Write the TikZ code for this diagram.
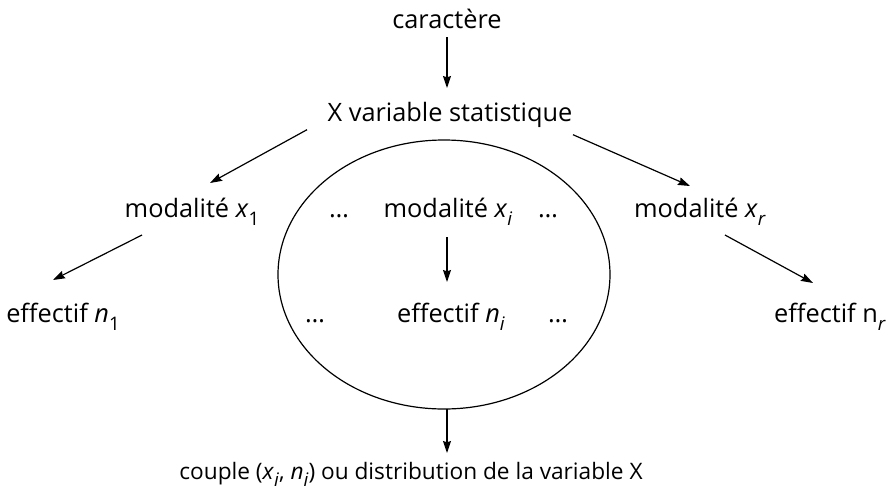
\documentclass[tikz,border=0pt]{standalone}
\usepackage{fontspec}
\setmainfont{Open Sans}
\usetikzlibrary{arrows.meta}
\newcommand{\vsub}[2]{#1\raisebox{-0.32em}{\fontsize{14}{14}\selectfont#2}}

\begin{document}
\begin{tikzpicture}[x=0.75pt,y=-0.75pt,line width=0.9pt,
      every node/.style={inner sep=0pt,anchor=base,font=\fontsize{19}{23}\selectfont},
      >={Stealth[length=9pt,width=6pt,inset=1pt]}]
      \useasboundingbox(0,0)rectangle(890,490);
      % the tree
      \node(car)at(447,28){caract\`ere};
      \node(var)at(450,121){X variable statistique};
      \node(mod1)at(192,217){modalit\'e \vsub{\textit{x}}{1}};
      \node(dl1)at(339,217){\dots};
      \node(modi)at(448,217){modalit\'e \vsub{\textit{x}}{\textit{i}}};
      \node(dr1)at(548,217){\dots};
      \node(modr)at(700,217){modalit\'e \vsub{\textit{x}}{\textit{r}}};
      \node(eff1)at(63,322){effectif \vsub{\textit{n}}{1}};
      \node(dl2)at(315,322){\dots};
      \node(effi)at(451,322){effectif \vsub{\textit{n}}{\textit{i}}};
      \node(dr2)at(558,322){\dots};
      \node(effr)at(830,322){effectif \vsub{n}{\textit{r}}};
      \node[font=\fontsize{17}{21}\selectfont](couple)at(411,479){couple (\vsub{\textit{x}}{\textit{i}}, \vsub{\textit{n}}{\textit{i}}) ou distribution de la variable X};
      \draw(444,274.5)ellipse[x radius=166,y radius=134.5];
      \coordinate(bot)at(447,409);
      % arrows
      \draw[->]([shift={(0,9)}]car.base)--([shift={(-3,-33)}]var.base);
      \draw[->]([shift={(-20,2)}]var.south west)--([shift={(18,-34)}]mod1.base);
      \draw[->]([shift={(0,7)}]var.south east)--([shift={(-10,-31)}]modr.base);
      \draw[->]([shift={(-50,18)}]mod1.base)--([shift={(-10,-42)}]eff1.base);
      \draw[->]([shift={(25,18)}]modr.base)--([shift={(-17,-39)}]effr.base);
      \draw[->]([shift={(-1,20)}]modi.base)--([shift={(-4,-40)}]effi.base);
      \draw[->](bot)--([shift={(36,-26)}]couple.base);
\end{tikzpicture}
\end{document}
